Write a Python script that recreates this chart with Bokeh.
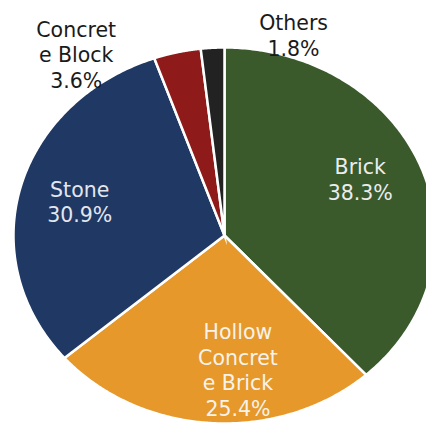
import numpy as np
from bokeh.plotting import figure
from bokeh.models import ColumnDataSource, Range1d
from bokeh.core.properties import value
from bokeh.embed import file_html
from bokeh.resources import INLINE

categories = ["Brick", "Hollow Concret\ne Brick", "Stone", "Concret\ne Block", "Others"]
label_names = ["Brick", "Hollow\nConcret\ne Brick", "Stone", "Concret\ne Block", "Others"]
shares = [38.3, 25.4, 30.9, 3.6, 1.8]
colors = ["#3a5a2c", "#e6982a", "#1f3864", "#8e1a1a", "#222222"]
label_colors = ["#ececec", "#f7f3ea", "#e4e6ee", "#1a1a1a", "#1a1a1a"]
label_radius = [0.72, 0.72, 0.72, 1.0, 1.0]
label_dx = [-6, 23, 2, -101, 81]
label_dy = [-7, 0, 2, 3, -12]

W, H = 426, 425
cx, cy = 224, 235       # centre in pixels (from top)
rx, ry = 211, 188       # ellipse radii in pixels

p = figure(width=W, height=H, output_backend="svg", toolbar_location=None,
           x_range=Range1d(-cx / rx, (W - cx) / rx),
           y_range=Range1d(-(H - cy) / ry, cy / ry),
           min_border=0)
p.axis.visible = False
p.grid.visible = False
p.outline_line_color = None
p.background_fill_color = "white"
p.border_fill_color = "white"

vals = np.array(shares)
frac = vals / vals.sum()
ends = np.cumsum(frac)
starts = ends - frac
a0 = np.pi / 2 - 2 * np.pi * starts
a1 = np.pi / 2 - 2 * np.pi * ends

xs, ys = [], []
for s, e in zip(a0, a1):
    t = np.linspace(s, e, 200)
    xs.append(np.concatenate([[0], np.cos(t), [0]]))
    ys.append(np.concatenate([[0], np.sin(t), [0]]))

src = ColumnDataSource(dict(xs=xs, ys=ys, color=colors, name=categories))
p.patches("xs", "ys", source=src, fill_color="color", line_color="white",
          line_width=2.5, line_join="miter")

mid = (a0 + a1) / 2
lr = np.array(label_radius)
lx = lr * np.cos(mid)
ly = lr * np.sin(mid)
texts = [f"{n}\n{v:.1f}%" for n, v in zip(label_names, shares)]
lsrc = ColumnDataSource(dict(x=lx, y=ly, text=texts, color=label_colors,
                             dx=label_dx, dy=label_dy))
p.text("x", "y", text="text", source=lsrc, text_color="color",
       x_offset="dx", y_offset="dy",
       text_align="center", text_baseline="middle",
       text_font=value("DejaVu Sans"), text_font_size="20.5px",
       text_line_height=1.06)

open("out.html", "w").write(file_html(p, INLINE))
